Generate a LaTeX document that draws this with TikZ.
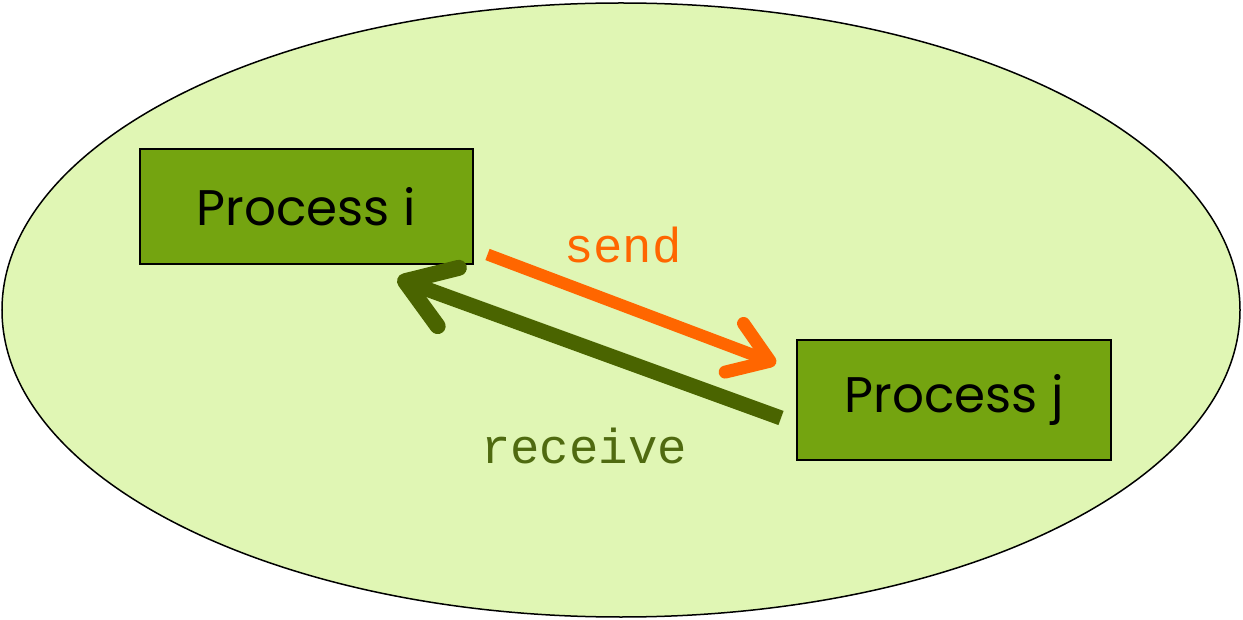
\documentclass[tikz,border=0pt]{standalone}
\usepackage{fontspec}
\setmainfont{Poppins}
\setmonofont{Liberation Mono}
\usetikzlibrary{shapes.geometric,arrows.meta}
\definecolor{sysbg}{HTML}{E0F6B4}
\definecolor{procfill}{HTML}{74A410}
\definecolor{sendcol}{HTML}{FF6600}
\definecolor{recvcol}{HTML}{4A6400}
\definecolor{recvtext}{HTML}{4F6A10}

\begin{document}
\begin{tikzpicture}[x=1pt, y=-1pt,
  process/.style = {shape=rectangle, draw=black, line width=2pt,
    fill=procfill, minimum width=333pt, minimum height=115pt,
    font=\fontsize{50}{56}\selectfont},
  msg/.style = {font=\ttfamily\fontsize{49}{52}\selectfont}]
  \useasboundingbox (0,0) rectangle (1243,620);
  \node[ellipse, draw=black, line width=1.5pt, fill=sysbg,
    minimum width=1238pt, minimum height=614pt] (system) at (621,310) {};
  \node[process] (proci) at (306,207) {Process i};
  \node[process, minimum width=314pt, minimum height=119pt] (procj) at (954,400) {Process j};
  % messages
  \draw[sendcol, line width=12pt,
    -{Straight Barb[length=38pt, width=52pt, line width=13pt, line cap=round, line join=round]}]
    ([xshift=14pt, yshift=11pt]proci.south east) -- ([xshift=-20pt, yshift=-24pt]procj.north west);
  \draw[recvcol, line width=15pt,
    -{Straight Barb[length=46pt, width=62pt, line width=16pt, line cap=round, line join=round]}]
    ([xshift=-15pt, yshift=-18pt]procj.west) -- ([xshift=-76pt, yshift=-13pt]proci.south east);
  \node[msg, text=sendcol] (sendlbl) at (623,245) {send};
  \node[msg, text=recvtext] (recvlbl) at (584,446) {receive};
\end{tikzpicture}
\end{document}
